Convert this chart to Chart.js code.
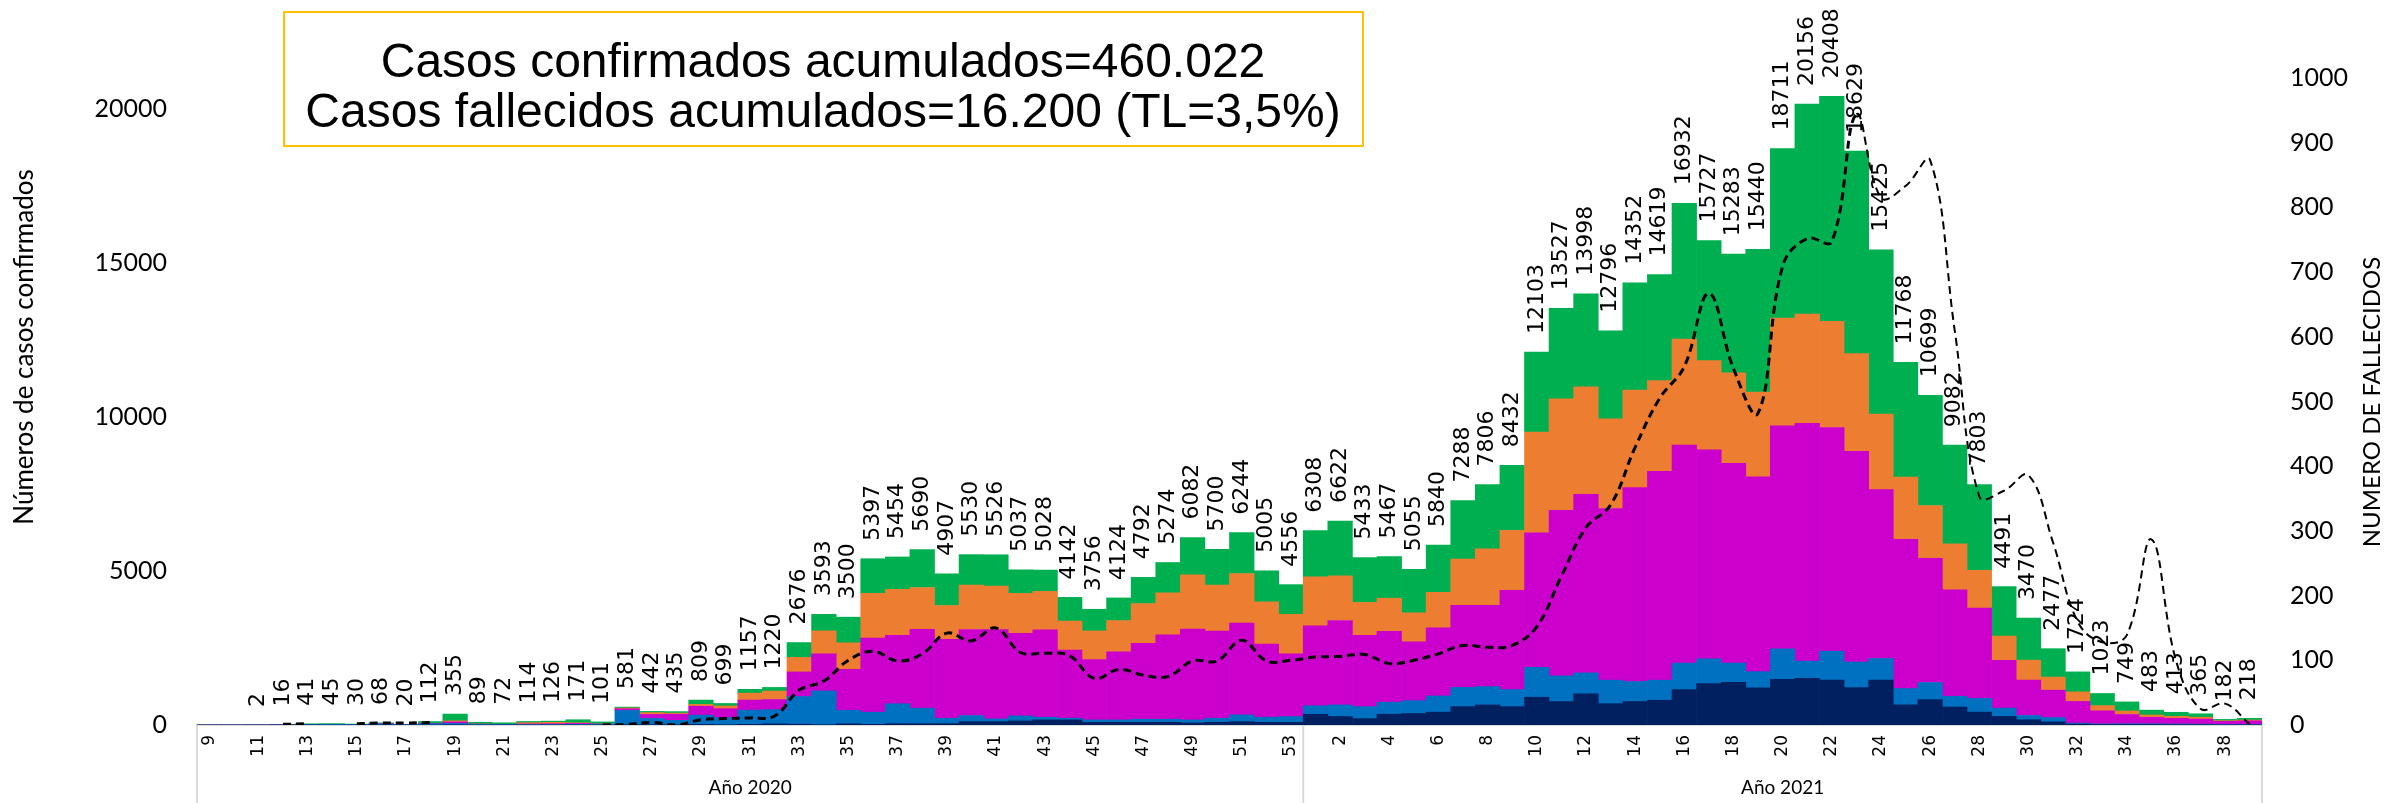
<!DOCTYPE html>
<html lang="es">
<head>
<meta charset="utf-8">
<title>Casos confirmados y fallecidos por semana</title>
<script src="https://cdn.jsdelivr.net/npm/chart.js@4.4.1/dist/chart.umd.min.js"></script>
<style>
  html, body { margin: 0; padding: 0; background: #fff; }
  #wrap { width: 2404px; height: 803px; }
</style>
</head>
<body>
<div id="wrap"><canvas id="chart" width="2404" height="803"></canvas></div>
<script>
// week numbers (categories): 2020 weeks 9-53, then 2021 weeks 1-39
const weeks2020 = [9, 10, 11, 12, 13, 14, 15, 16, 17, 18, 19, 20, 21, 22, 23, 24, 25, 26, 27, 28, 29, 30, 31,
  32, 33, 34, 35, 36, 37, 38, 39, 40, 41, 42, 43, 44, 45, 46, 47, 48, 49, 50, 51, 52, 53];
const weeks2021 = [1, 2, 3, 4, 5, 6, 7, 8, 9, 10, 11, 12, 13, 14, 15, 16, 17, 18, 19, 20, 21, 22, 23, 24, 25,
  26, 27, 28, 29, 30, 31, 32, 33, 34, 35, 36, 37, 38, 39];
const yearLabels = ["Año 2020", "Año 2021"];

// axis ticks
const casosTicks = [0, 5000, 10000, 15000, 20000];
const fallecidosTicks = [0, 100, 200, 300, 400, 500, 600, 700, 800, 900, 1000];

// weekly confirmed totals (labels above the bars)
const totals = [null, null, 2, 16, 41, 45, 30, 68, 20, 112, 355, 89, 72, 114, 126, 171, 101, 581, 442, 435,
  809, 699, 1157, 1220, 2676, 3593, 3500, 5397, 5454, 5690, 4907, 5530, 5526, 5037, 5028, 4142, 3756, 4124,
  4792, 5274, 6082, 5700, 6244, 5005, 4556,
  6308, 6622, 5433, 5467, 5055, 5840, 7288, 7806, 8432, 12103, 13527, 13998, 12796, 14352, 14619, 16932,
  15727, 15283, 15440, 18711, 20156, 20408, 18629, 15425, 11768, 10699, 9082, 7803, 4491, 3470, 2477, 1724,
  1023, 749, 483, 413, 365, 182, 218];

// stacked series (bottom to top)
const serieNavy = [0, 0, 0, 0, 0, 0, 0, 0, 0, 0, 5, 0, 0, 0, 0, 1, 0, 11, 12, 10, 19, 9, 22, 37, 26, 11, 40,
  22, 44, 44, 44, 110, 110, 131, 164, 164, 88, 88, 88, 88, 66, 88, 110, 88, 88,
  347, 277, 208, 350, 374, 416, 596, 651, 596, 901, 762, 1012, 693, 762, 804, 1150, 1344, 1386, 1206, 1480,
  1517, 1462, 1211, 1462, 654, 821, 585, 418, 280, 170, 100, 30, 15, 15, 15, 12, 10, 5, 5];
const serieBlue = [0, 0, 2, 10, 16, 20, 20, 40, 15, 40, 45, 20, 15, 14, 16, 20, 20, 460, 200, 140, 300, 230,
  461, 460, 898, 1095, 438, 394, 646, 500, 175, 197, 88, 164, 88, 55, 77, 77, 99, 99, 99, 131, 219, 164, 186,
  277, 374, 388, 390, 416, 527, 624, 596, 554, 970, 832, 679, 762, 651, 651, 859, 804, 624, 527, 990, 557,
  933, 835, 696, 529, 557, 348, 445, 267, 140, 140, 30, 20, 25, 25, 20, 18, 10, 10];
const serieMagenta = [0, 0, 0, 0, 0, 0, 0, 8, 0, 12, 50, 9, 7, 20, 25, 30, 11, 55, 130, 200, 290, 290, 326,
  329, 799, 1205, 1325, 2409, 2224, 2562, 2564, 2792, 2897, 2683, 2836, 2212, 1959, 2207, 2464, 2743, 2946,
  2831, 2978, 2377, 2037,
  2592, 2740, 2315, 2300, 1909, 2210, 2665, 2640, 3225, 4370, 5370, 5793, 5572, 6290, 6780, 7080, 6780, 6486,
  6320, 7240, 7720, 7260, 6840, 5480, 4840, 4035, 3455, 2930, 1550, 1150, 890, 705, 425, 300, 210, 185, 165,
  105, 120];
const serieOrange = [0, 0, 0, 0, 0, 0, 0, 0, 0, 0, 35, 0, 0, 40, 45, 20, 0, 25, 60, 35, 60, 90, 225, 274, 471,
  745, 865, 1445, 1489, 1358, 1095, 1445, 1413, 1292, 1248, 942, 931, 1018, 1292, 1358, 1763, 1489, 1610,
  1369, 1281,
  1594, 1450, 1067, 1075, 942, 1157, 1500, 1835, 1945, 3265, 3620, 3493, 2911, 3170, 2945, 3440, 2900, 2935,
  2750, 3500, 3545, 3450, 3170, 2450, 2020, 1710, 1490, 1230, 790, 645, 425, 310, 170, 115, 75, 65, 60, 20, 25];
const serieGreen = [0, 0, 0, 6, 25, 25, 10, 20, 5, 60, 220, 60, 50, 40, 40, 100, 70, 30, 40, 50, 140, 80, 123,
  120, 482, 537, 832, 1127, 1051, 1226, 1029, 986, 1018, 767, 692, 769, 701, 734, 849, 986, 1208, 1161, 1327,
  1007, 964,
  1498, 1781, 1455, 1352, 1414, 1530, 1903, 2084, 2112, 2597, 2943, 3021, 2858, 3479, 3439, 4403, 3899, 3852,
  4637, 5501, 6817, 7303, 6573, 5337, 3725, 3576, 3204, 2780, 1604, 1365, 922, 649, 393, 294, 158, 131, 112,
  42, 58];

// weekly deaths (right axis)
const fallecidos = [null, null, null, 1, 2, null, 2, 3, 3, 4, null, null, null, null, null, null, 0, 1, 4, 0,
  8, 10, 11, 14, 54, 68, 100, 114, 99, 110, 142, 130, 150, 112, 111, 107, 72, 86, 77, 75, 99, 99, 131, 99, 100,
  105, 106, 109, 95, 100, 110, 123, 120, 123, 152, 230, 305, 340, 429, 505, 554, 667, 551, 482, 709, 752, 747,
  944, 815, 833, 873, 610, 353, 362, 386, 282, 160, 128, 139, 287, 100, 25, 33, 1];

const titleLines = ["Casos confirmados acumulados=460.022", "Casos fallecidos acumulados=16.200 (TL=3,5%)"];

const weekLabels = weeks2020.concat(weeks2021);
const stacks = [serieNavy, serieBlue, serieMagenta, serieOrange, serieGreen];
const stackColors = ["#002060", "#0070C0", "#CC00CC", "#ED7D31", "#00B050"];

const overlay = {
  id: "overlay",
  afterDatasetsDraw(chart) {
    const ctx = chart.ctx, x = chart.scales.x, y = chart.scales.y;
    ctx.save();
    ctx.font = '22px "DejaVu Sans"';
    ctx.fillStyle = "#000";
    ctx.textAlign = "left";
    ctx.textBaseline = "middle";
    totals.forEach(function (t, i) {
      if (!t) return;
      const sum = stacks.reduce(function (s, arr) { return s + (arr[i] || 0); }, 0);
      ctx.save();
      ctx.translate(x.getPixelForValue(i), y.getPixelForValue(sum) - 18);
      ctx.rotate(-Math.PI / 2);
      ctx.fillText(String(t), 0, 0);
      ctx.restore();
    });
    ctx.restore();
  },
  afterDraw(chart) {
    const ctx = chart.ctx, x = chart.scales.x;
    const n20 = weeks2020.length;
    const mid = (x.getPixelForValue(n20 - 1) + x.getPixelForValue(n20)) / 2;
    ctx.save();
    // group separators under the axis
    ctx.strokeStyle = "#d9d9d9";
    ctx.lineWidth = 2;
    [x.left, mid, x.right].forEach(function (px) {
      ctx.beginPath();
      ctx.moveTo(px, x.top);
      ctx.lineTo(px, 803);
      ctx.stroke();
    });
    ctx.fillStyle = "#000";
    ctx.font = '19px "Lato"';
    ctx.textAlign = "center";
    ctx.textBaseline = "middle";
    ctx.fillText(yearLabels[0], (x.left + mid) / 2, 788);
    ctx.fillText(yearLabels[1], (mid + x.right) / 2, 788);

    // axis titles
    ctx.font = '26px "Lato"';
    ctx.save();
    ctx.translate(25, 347);
    ctx.rotate(-Math.PI / 2);
    ctx.fillText("Números de casos confirmados", 0, 0);
    ctx.restore();
    ctx.font = '24px "Lato"';
    ctx.save();
    ctx.translate(2372, 402);
    ctx.rotate(-Math.PI / 2);
    ctx.fillText("NUMERO DE FALLECIDOS", 0, 0);
    ctx.restore();

    // title box
    ctx.strokeStyle = "#FFC000";
    ctx.lineWidth = 2;
    ctx.strokeRect(284, 12, 1079, 134);
    ctx.font = '48px "Liberation Sans"';
    ctx.fillText(titleLines[0], 823, 64);
    ctx.fillText(titleLines[1], 823, 114);
    ctx.restore();
  }
};

const barSets = stacks.map(function (arr, k) {
  return {
    type: "bar",
    data: arr,
    backgroundColor: stackColors[k],
    borderWidth: 0,
    barPercentage: 1,
    categoryPercentage: 1,
    yAxisID: "y",
    order: 1
  };
});

const lineSet = {
  type: "line",
  data: fallecidos,
  yAxisID: "y2",
  borderColor: "#000",
  borderWidth: 3,
  borderDash: [8, 5],
  pointRadius: 0,
  tension: 0.4,
  fill: false,
  spanGaps: false,
  order: 0,
  segment: {
    borderWidth: function (c) { return c.p0DataIndex >= 67 ? 2 : 3; }
  }
};

const tickFont = { family: "Lato", size: 25 };

new Chart(document.getElementById("chart"), {
  type: "bar",
  data: { labels: weekLabels, datasets: barSets.concat([lineSet]) },
  options: {
    responsive: false,
    animation: false,
    layout: { padding: { top: 78, left: 0, right: 0, bottom: 0 } },
    plugins: { legend: { display: false }, tooltip: { enabled: false } },
    scales: {
      x: {
        stacked: true,
        grid: { display: false, drawTicks: false },
        border: { display: true, color: "#d9d9d9", width: 2 },
        ticks: {
          autoSkip: false, minRotation: 90, maxRotation: 90, padding: 10, color: "#000",
          font: { family: "DejaVu Sans", size: 17 },
          callback: function (v, i) { return i % 2 === 0 ? String(weekLabels[i]) : ""; }
        },
        afterFit: function (s) { s.height = 78; }
      },
      y: {
        stacked: true, min: 0, max: 21000,
        grid: { display: false, drawTicks: false },
        border: { display: false },
        ticks: {
          autoSkip: false, padding: 30, color: "#000", font: tickFont,
          callback: function (v) { return String(v); }
        },
        afterBuildTicks: function (s) { s.ticks = casosTicks.map(function (v) { return { value: v }; }); },
        afterFit: function (s) { s.width = 197; }
      },
      y2: {
        position: "right", min: 0, max: 1000,
        grid: { display: false, drawTicks: false },
        border: { display: false },
        ticks: {
          autoSkip: false, padding: 28, color: "#000", font: tickFont,
          callback: function (v) { return String(v); }
        },
        afterBuildTicks: function (s) { s.ticks = fallecidosTicks.map(function (v) { return { value: v }; }); },
        afterFit: function (s) { s.width = 142; }
      }
    }
  },
  plugins: [overlay]
});
</script>
</body>
</html>
